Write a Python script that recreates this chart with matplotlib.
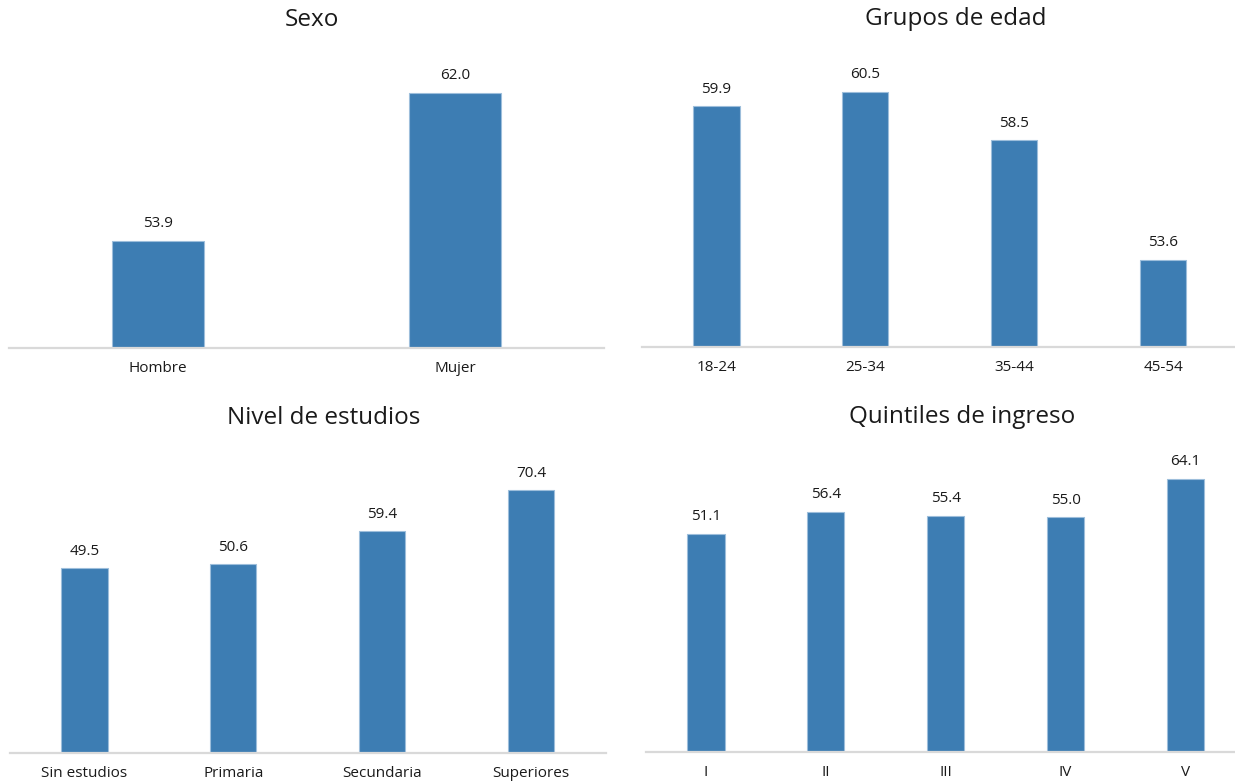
import matplotlib.pyplot as plt

plt.rcParams["font.family"] = ["Open Sans", "DejaVu Sans"]

# ---- datos por panel ----
sexo_cat = ["Hombre", "Mujer"]
sexo_val = [53.9, 62.0]

edad_cat = ["18-24", "25-34", "35-44", "45-54"]
edad_val = [59.9, 60.5, 58.5, 53.6]

estudios_cat = ["Sin estudios", "Primaria", "Secundaria", "Superiores"]
estudios_val = [49.5, 50.6, 59.4, 70.4]

quintil_cat = ["I", "II", "III", "IV", "V"]
quintil_val = [51.1, 56.4, 55.4, 55.0, 64.1]

BAR_COLOR = "#3d7db3"
EDGE_COLOR = "#9dbedb"
AXIS_COLOR = "#d9d9d9"

W, H = 1235, 783
fig = plt.figure(figsize=(W / 100, H / 100), dpi=100)


def px_axes(x0, x1, y_top, y_base):
    """Crea ejes a partir de coordenadas en pixeles (origen arriba-izquierda)."""
    return fig.add_axes([x0 / W, 1 - y_base / H, (x1 - x0) / W, (y_base - y_top) / H])


def panel(ax, cats, vals, ylim, title, title_xy):
    x = range(len(cats))
    ax.bar(x, vals, width=0.31, color=BAR_COLOR, edgecolor=EDGE_COLOR, linewidth=0.8, zorder=2)
    for xi, v in zip(x, vals):
        ax.annotate(f"{v:.1f}", (xi, v), xytext=(0, 7), textcoords="offset points",
                    ha="center", va="bottom", fontsize=11, color="#1a1a1a")
    ax.set_xlim(-0.5, len(cats) - 0.5)
    ax.set_ylim(*ylim)
    ax.set_xticks(list(x))
    ax.set_xticklabels(cats, fontsize=11, color="#1a1a1a")
    ax.tick_params(axis="x", length=0, pad=9.5)
    ax.set_yticks([])
    for s in ["top", "right", "left"]:
        ax.spines[s].set_visible(False)
    ax.spines["bottom"].set_color(AXIS_COLOR)
    ax.spines["bottom"].set_linewidth(1.6)
    ax.patch.set_alpha(0)
    fig.text(title_xy[0] / W, 1 - title_xy[1] / H, title, ha="center", va="center",
             fontsize=17.5, color="#1a1a1a")


ax1 = px_axes(9, 604, 60, 348)
panel(ax1, sexo_cat, sexo_val, (48.0, 48.0 + 288 / 18.2), "Sexo", (312, 20))

ax2 = px_axes(642, 1237.5, 60, 347)
panel(ax2, edad_cat, edad_val, (50.0, 50.0 + 287 / 24.3), "Grupos de edad", (956, 19))

ax3 = px_axes(10, 605.5, 460, 753)
panel(ax3, estudios_cat, estudios_val, (0, 293 / 3.73), "Nivel de estudios", (324, 418))

ax4 = px_axes(646, 1245.5, 460, 752)
panel(ax4, quintil_cat, quintil_val, (0, 292 / 4.264), "Quintiles de ingreso", (962, 417))

fig.savefig("out.png", dpi=100, facecolor="white")
